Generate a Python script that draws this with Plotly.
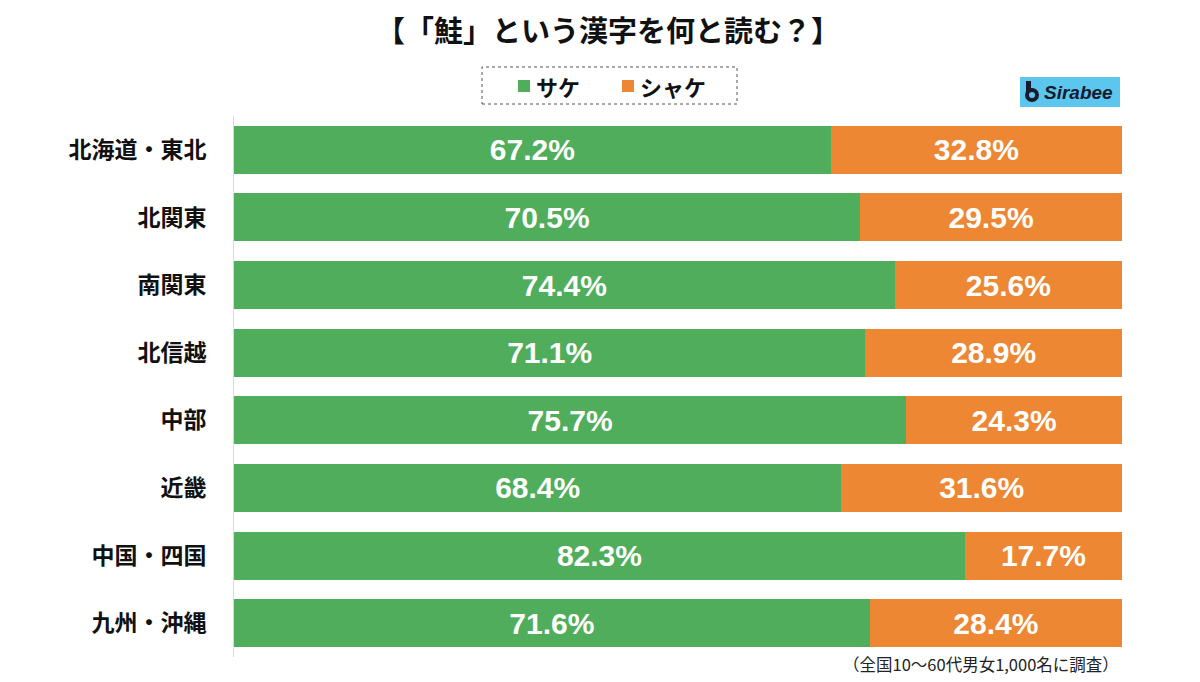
import plotly.graph_objects as go

regions = ["北海道・東北", "北関東", "南関東", "北信越", "中部", "近畿", "中国・四国", "九州・沖縄"]
sake = [67.2, 70.5, 74.4, 71.1, 75.7, 68.4, 82.3, 71.6]
shake = [32.8, 29.5, 25.6, 28.9, 24.3, 31.6, 17.7, 28.4]
series_names = ["サケ", "シャケ"]
title_text = "【\u200b「鮭」という漢字を何と読む？】"
note_text = "（全国10～60代男女1,000名に調査）"

GREEN = "#4FAD5B"
ORANGE = "#ED8733"
LATIN = "Liberation Sans, Noto Sans CJK JP, sans-serif"
CJK = "Noto Sans CJK JP"

# page body has an 8px margin: work in screen coordinates and convert
OFF = 8
W, H = 1200 - OFF, 682 - OFF
PL, PR, PT, PB = 234, 1122, 116, 657   # plot area in screen px
L = PL - OFF
R = W - (PR - OFF)
T = PT - OFF
B = H - (PB - OFF)
PW = PR - PL
PH = PB - PT


def px(xs):
    return (xs - PL) / PW


def py(ys):
    return 1 - (ys - PT) / PH


fig = go.Figure()
for name, vals, col in [(series_names[0], sake, GREEN), (series_names[1], shake, ORANGE)]:
    fig.add_trace(go.Bar(
        y=regions, x=vals, name=name, orientation="h",
        marker=dict(color=col, line=dict(width=0)),
        text=[f"{v:.1f}%" for v in vals],
        textposition="inside", insidetextanchor="middle",
        textfont=dict(color="white", size=30, family=LATIN, weight="bold"),
        hoverinfo="skip", showlegend=False,
    ))

fig.update_layout(
    width=W, height=H,
    margin=dict(l=L, r=R, t=T, b=B),
    barmode="stack", bargap=0.29,
    plot_bgcolor="white", paper_bgcolor="white",
    font=dict(family=LATIN, color="#111111"),
    xaxis=dict(range=[0, 100], visible=False, fixedrange=True),
    yaxis=dict(autorange="reversed", showline=True, linecolor="#D9D9D9", linewidth=1,
               ticks="", showgrid=False, ticklabelstandoff=22,
               tickfont=dict(size=23, color="#111111", family=CJK, weight="bold")),
    showlegend=False,
)

# title
fig.add_annotation(xref="paper", yref="paper", x=px(608), y=py(29),
                   xanchor="center", yanchor="middle", showarrow=False,
                   text=f"<b>{title_text}</b>",
                   font=dict(size=29, color="#111111", family=CJK))

# legend (dotted box, swatches, labels)
fig.add_shape(type="rect", xref="paper", yref="paper",
              x0=px(482), x1=px(737), y0=py(104), y1=py(67),
              line=dict(color="#555555", width=1, dash="dot"), fillcolor="rgba(0,0,0,0)")
legend_items = [(series_names[0], GREEN, 518), (series_names[1], ORANGE, 622)]
for name, col, sx in legend_items:
    fig.add_shape(type="rect", xref="paper", yref="paper",
                  x0=px(sx), x1=px(sx + 12), y0=py(92), y1=py(80),
                  line=dict(width=0), fillcolor=col)
    fig.add_annotation(xref="paper", yref="paper", x=px(sx + 16), y=py(86),
                       xanchor="left", yanchor="middle", showarrow=False,
                       text=f"<b>{name}</b>",
                       font=dict(size=22, color="#111111", family=CJK))

# logo
fig.add_shape(type="rect", xref="paper", yref="paper",
              x0=px(1020), x1=px(1120), y0=py(107), y1=py(77),
              line=dict(width=0), fillcolor="#5BC6EE")
fig.add_shape(type="circle", xref="paper", yref="paper",
              x0=px(1025), x1=px(1039), y0=py(102), y1=py(88),
              line=dict(width=0), fillcolor="#1A1A2E")
fig.add_shape(type="rect", xref="paper", yref="paper",
              x0=px(1026), x1=px(1031), y0=py(92), y1=py(81),
              line=dict(width=0), fillcolor="#1A1A2E")
fig.add_shape(type="circle", xref="paper", yref="paper",
              x0=px(1029), x1=px(1035), y0=py(98), y1=py(92),
              line=dict(width=0), fillcolor="#5BC6EE")
fig.add_annotation(xref="paper", yref="paper", x=px(1042), y=py(93),
                   text="<b><i>Sirabee</i></b>", showarrow=False,
                   font=dict(size=19, color="#1A1A2E", family="Liberation Sans"),
                   xanchor="left", yanchor="middle")

# footnote
fig.add_annotation(xref="paper", yref="paper", x=px(1121), xanchor="right",
                   y=py(664), yanchor="middle",
                   text=note_text, showarrow=False,
                   font=dict(size=16.5, color="#222222", family=CJK))

fig.write_html("out.html")
